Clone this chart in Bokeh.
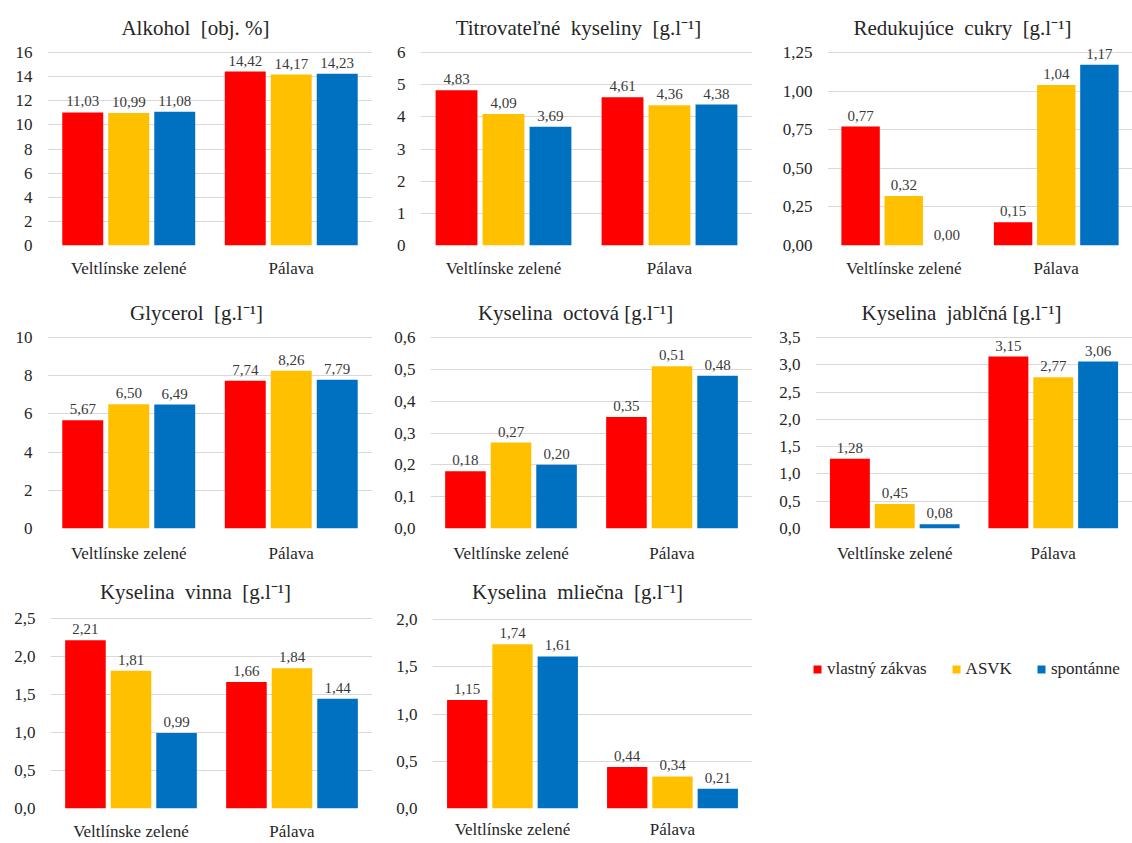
from bokeh.plotting import figure
from bokeh.models import Range1d, FactorRange, FixedTicker, ColumnDataSource, Legend, LegendItem
from bokeh.transform import dodge
from bokeh.layouts import column, row
from bokeh.core.properties import value
from bokeh.embed import file_html
from bokeh.resources import INLINE

# ---------------- data ----------------
categories = ["Veltlínske zelené", "Pálava"]
series = ["vlastný zákvas", "ASVK", "spontánne"]
colors = ["#FF0000", "#FFC000", "#0070C0"]

titles = [
    "Alkohol \u00a0[obj. %]",
    "Titrovateľné \u00a0kyseliny \u00a0[g.l⁻¹]",
    "Redukujúce \u00a0cukry \u00a0[g.l⁻¹]",
    "Glycerol \u00a0[g.l⁻¹]",
    "Kyselina \u00a0octová [g.l⁻¹]",
    "Kyselina \u00a0jablčná [g.l⁻¹]",
    "Kyselina \u00a0vinna \u00a0[g.l⁻¹]",
    "Kyselina \u00a0mliečna \u00a0[g.l⁻¹]",
]

# values per series: [Veltlínske zelené, Pálava]
alkohol = [[11.03, 14.42], [10.99, 14.17], [11.08, 14.23]]
titrovatelne = [[4.83, 4.61], [4.09, 4.36], [3.69, 4.38]]
redukujuce = [[0.77, 0.15], [0.32, 1.04], [0.00, 1.17]]
glycerol = [[5.67, 7.74], [6.50, 8.26], [6.49, 7.79]]
octova = [[0.18, 0.35], [0.27, 0.51], [0.20, 0.48]]
jablcna = [[1.28, 3.15], [0.45, 2.77], [0.08, 3.06]]
vinna = [[2.21, 1.66], [1.81, 1.84], [0.99, 1.44]]
mliecna = [[1.15, 0.44], [1.74, 0.34], [1.61, 0.21]]

alkohol_ticks = [0, 2, 4, 6, 8, 10, 12, 14, 16]
titrovatelne_ticks = [0, 1, 2, 3, 4, 5, 6]
redukujuce_ticks = [0.0, 0.25, 0.5, 0.75, 1.0, 1.25]
glycerol_ticks = [0, 2, 4, 6, 8, 10]
octova_ticks = [0.0, 0.1, 0.2, 0.3, 0.4, 0.5, 0.6]
jablcna_ticks = [0.0, 0.5, 1.0, 1.5, 2.0, 2.5, 3.0, 3.5]
vinna_ticks = [0.0, 0.5, 1.0, 1.5, 2.0, 2.5]
mliecna_ticks = [0.0, 0.5, 1.0, 1.5, 2.0]

panels_data = [alkohol, titrovatelne, redukujuce, glycerol, octova, jablcna, vinna, mliecna]
panels_ticks = [alkohol_ticks, titrovatelne_ticks, redukujuce_ticks, glycerol_ticks,
                octova_ticks, jablcna_ticks, vinna_ticks, mliecna_ticks]
tick_decimals = [0, 0, 2, 0, 1, 1, 1, 1]

# ---------------- layout (pixels) ----------------
col_edges = [0, 377, 755, 1132]
row_edges = [0, 290, 570, 843]
# x0, x1, y_of_top_tick, y_of_zero, title_cx, title_cy, category_label_cy
geom = [
    (47, 372, 52, 245, 195, 27, 268),
    (420, 752, 52, 245, 578, 27, 268),
    (827, 1132, 52, 245, 962, 27, 268),
    (47, 372, 337, 528, 196, 312, 553),
    (430, 752, 337, 528, 575, 312, 553),
    (815, 1132, 337, 528, 961, 312, 553),
    (50, 372, 618, 810, 195, 592, 833),
    (432, 752, 620, 812, 577, 592, 833),
]

FONT = "Liberation Serif"
TXT = "#262626"
bar_w = 0.252
offsets = [-0.283, 0.0, 0.283]


def fmt(v, d):
    return f"{v:.{d}f}".replace(".", ",")


figs = []
for i in range(8):
    col, rw = i % 3, i // 3
    cl, cr = col_edges[col], col_edges[col + 1]
    ct, cb = row_edges[rw], row_edges[rw + 1]
    x0, x1, ytp, y0, tcx, tcy, lcy = geom[i]
    ticks = panels_ticks[i]
    top = ticks[-1]
    scale = top / (y0 - ytp)
    y_end = (y0 - ct) * scale

    p = figure(width=cr - cl, height=cb - ct, output_backend="svg", toolbar_location=None,
               x_range=FactorRange(*categories), y_range=Range1d(0, y_end),
               min_border_left=x0 - cl, min_border_right=cr - x1,
               min_border_top=0, min_border_bottom=cb - y0)
    p.outline_line_color = None
    p.background_fill_color = "white"
    p.border_fill_color = "white"
    p.xgrid.grid_line_color = None
    p.ygrid.grid_line_color = "#D9D9D9"
    p.ygrid.grid_line_width = 1
    p.yaxis.ticker = FixedTicker(ticks=ticks)
    p.yaxis.major_label_overrides = {t: fmt(t, tick_decimals[i]) for t in ticks}
    for ax in (p.xaxis, p.yaxis):
        ax.axis_line_color = None
        ax.major_tick_line_color = None
        ax.minor_tick_line_color = None
        ax.major_tick_out = 0
        ax.major_tick_in = 0
        ax.major_label_text_font = "'Liberation Serif', serif"
        ax.major_label_text_font_size = "17px"
        ax.major_label_text_color = TXT
    p.yaxis.major_label_standoff = 15
    p.xaxis.major_label_standoff = max(lcy - y0 - 10, 4)

    vals = panels_data[i]
    for s in range(3):
        src = ColumnDataSource(dict(cat=categories, v=vals[s],
                                    lab=[fmt(v, 2) for v in vals[s]]))
        xd = dodge("cat", offsets[s], range=p.x_range)
        p.vbar(x=xd, top="v", bottom=0, width=bar_w, source=src,
               fill_color=colors[s], line_color=None)
        p.text(x=xd, y="v", text="lab", source=src, text_align="center",
               text_baseline="bottom", y_offset=-6, text_font=value(FONT),
               text_font_size="15px", text_color="#3a3a3a")

    # title, centered on measured position
    tx = (tcx - x0) / (x1 - x0) * 2
    ty = (y0 - tcy) * scale
    p.text(x=[tx], y=[ty], text=[titles[i]], text_align="center", text_baseline="middle",
           text_font=value(FONT), text_font_size="21px", text_color=TXT)
    figs.append(p)

# legend cell
cl, cr = col_edges[2], col_edges[3]
ct, cb = row_edges[2], row_edges[3]
pl = figure(width=cr - cl, height=cb - ct, output_backend="svg", toolbar_location=None,
            x_range=Range1d(0, 1), y_range=Range1d(0, 1),
            min_border_left=0, min_border_right=0, min_border_top=0, min_border_bottom=0)
pl.axis.visible = False
pl.grid.visible = False
pl.outline_line_color = None
items = []
nan = float("nan")
for s in range(3):
    r = pl.vbar(x=[nan], top=[nan], width=0.1, fill_color=colors[s], line_color=None)
    items.append(LegendItem(label=series[s], renderers=[r]))
leg = Legend(items=items, orientation="horizontal", location=(57, 129),
             glyph_width=10, glyph_height=10, label_standoff=5, spacing=24,
             padding=0, margin=0, border_line_color=None, background_fill_alpha=0,
             label_text_font=FONT, label_text_font_size="17px", label_text_color=TXT)
pl.add_layout(leg)
figs.append(pl)

layout = column(row(*figs[0:3]), row(*figs[3:6]), row(*figs[6:9]))
open("out.html", "w").write(file_html(layout, INLINE))
